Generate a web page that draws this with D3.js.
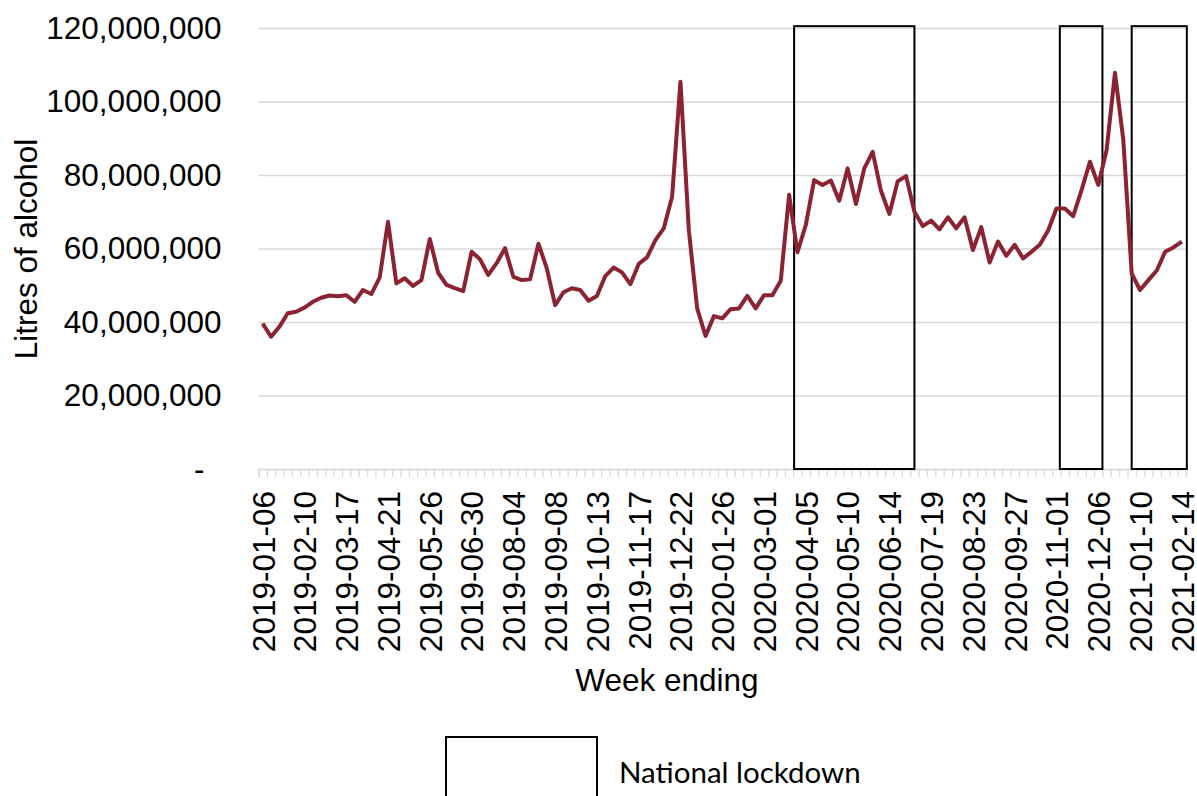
<!DOCTYPE html>
<html>
<head>
<meta charset="utf-8">
<script src="https://cdn.jsdelivr.net/npm/d3@7"></script>
<style>
  body { margin: 0; background: #fff; }
  svg { display: block; }
  text { font-family: "Liberation Sans", Arial, sans-serif; fill: #000; }
</style>
</head>
<body>
<div id="chart"></div>
<script>
// Weekly litres of alcohol (millions), week ending 2019-01-06 .. 2021-02-14
const firstWeek = "2019-01-06";
const litresM = [
  39.6, 36.0, 38.7, 42.4, 42.8, 43.9, 45.5, 46.6, 47.2, 47.0,
  47.3, 45.5, 48.7, 47.6, 52.1, 67.3, 50.5, 51.9, 49.8, 51.4,
  62.6, 53.4, 50.1, 49.2, 48.4, 59.1, 57.1, 52.8, 56.0, 60.1,
  52.3, 51.4, 51.6, 61.3, 54.6, 44.6, 48.1, 49.2, 48.7, 45.8,
  47.1, 52.5, 54.8, 53.5, 50.3, 55.8, 57.6, 62.3, 65.5, 74.1,
  105.4, 65.0, 43.7, 36.2, 41.6, 41.0, 43.5, 43.7, 47.1, 43.7,
  47.3, 47.3, 51.2, 74.6, 59.0, 66.4, 78.6, 77.3, 78.5, 73.0,
  81.8, 72.1, 81.8, 86.3, 75.7, 69.4, 78.3, 79.7, 70.0, 66.1,
  67.6, 65.2, 68.5, 65.5, 68.5, 59.6, 65.8, 56.2, 61.9, 58.0,
  61.0, 57.3, 59.1, 61.0, 64.9, 70.9, 70.9, 68.8, 75.9, 83.6,
  77.3, 86.8, 107.8, 89.5, 53.2, 48.7, 51.4, 54.0, 59.1, 60.3,
  61.9
];
const yTicks = [0, 20e6, 40e6, 60e6, 80e6, 100e6, 120e6];
// lockdown periods, in week positions along the category axis
const lockdownFrom = [64.1, 95.9, 104.5];
const lockdownTo = [78.5, 101.0, 111.1];
const lockdownTop = 120.5e6;
const legendLabel = "National lockdown";

const width = 1197, height = 796;
const margin = { top: 28, right: 11, bottom: 327, left: 258.5 };

const parseDay = d3.utcParse("%Y-%m-%d");
const fmtDay = d3.utcFormat("%Y-%m-%d");
const weeks = litresM.map((v, i) => fmtDay(d3.utcDay.offset(parseDay(firstWeek), i * 7)));
const data = litresM.map((v, i) => ({ week: weeks[i], i: i, value: v * 1e6 }));

const svg = d3.select("#chart").append("svg")
  .attr("width", width)
  .attr("height", height);

const x = d3.scaleLinear()
  .domain([0, data.length])
  .range([margin.left, width - margin.right]);

const y = d3.scaleLinear()
  .domain([0, 120e6])
  .range([469, margin.top]);

// gridlines + y labels
const yAxis = d3.axisLeft(y)
  .tickValues(yTicks)
  .tickSize(-(x.range()[1] - x.range()[0]))
  .tickPadding(37)
  .tickFormat(d => d === 0 ? "-" : d3.format(",")(d));
const gy = svg.append("g")
  .attr("transform", `translate(${margin.left},0)`)
  .call(yAxis);
gy.select(".domain").remove();
gy.selectAll(".tick line").attr("stroke", "#d9d9d9").attr("stroke-width", 1.6);
gy.selectAll(".tick text")
  .style("font-size", "31.5px")
  .attr("dx", d => d === 0 ? -17 : 0);

// category tick marks at week boundaries
const gx = svg.append("g")
  .attr("transform", `translate(0,${y(0)})`)
  .call(d3.axisBottom(x).tickValues(d3.range(0, data.length + 1)).tickSize(8).tickFormat(""));
gx.select(".domain").attr("stroke", "#d9d9d9").attr("stroke-width", 1.6);
gx.selectAll(".tick line").attr("stroke", "#d9d9d9").attr("stroke-width", 1.2);

// week labels every 5th week
const labelled = data.filter(d => d.i % 5 === 0);
const gl = svg.append("g")
  .attr("transform", `translate(0,${y(0)})`)
  .call(d3.axisBottom(x)
    .tickValues(labelled.map(d => d.i + 0.5))
    .tickSize(0)
    .tickFormat(v => weeks[Math.round(v - 0.5)]));
gl.select(".domain").remove();
gl.selectAll(".tick text")
  .style("font-size", "31.5px")
  .attr("transform", "rotate(-90)")
  .attr("text-anchor", "end")
  .attr("x", -22)
  .attr("y", 0)
  .attr("dy", "0.36em");

// lockdown boxes
svg.selectAll(".lockdown")
  .data(lockdownFrom.map((f, k) => ({ from: f, to: lockdownTo[k] })))
  .enter().append("rect")
  .attr("class", "lockdown")
  .attr("x", d => x(d.from))
  .attr("y", y(lockdownTop))
  .attr("width", d => x(d.to) - x(d.from))
  .attr("height", y(0) - y(lockdownTop))
  .attr("fill", "none")
  .attr("stroke", "#000")
  .attr("stroke-width", 2);

// the series
const line = d3.line()
  .x(d => x(d.i + 0.5))
  .y(d => y(d.value));
svg.append("path")
  .datum(data)
  .attr("d", line)
  .attr("fill", "none")
  .attr("stroke", "#8b2332")
  .attr("stroke-width", 4)
  .attr("stroke-linejoin", "round");

// axis titles
svg.append("text")
  .attr("x", 667)
  .attr("y", 691)
  .attr("text-anchor", "middle")
  .style("font-size", "31.5px")
  .text("Week ending");

svg.append("text")
  .attr("transform", "rotate(-90)")
  .attr("x", -249)
  .attr("y", 37)
  .attr("text-anchor", "middle")
  .style("font-size", "31.5px")
  .text("Litres of alcohol");

// legend
svg.append("rect")
  .attr("x", 446)
  .attr("y", 737)
  .attr("width", 151)
  .attr("height", 80)
  .attr("fill", "none")
  .attr("stroke", "#000")
  .attr("stroke-width", 2);
svg.append("text")
  .attr("x", 619)
  .attr("y", 783)
  .style("font-family", "Lato, 'Open Sans', sans-serif")
  .style("font-size", "29.5px")
  .text(legendLabel);
</script>
</body>
</html>
